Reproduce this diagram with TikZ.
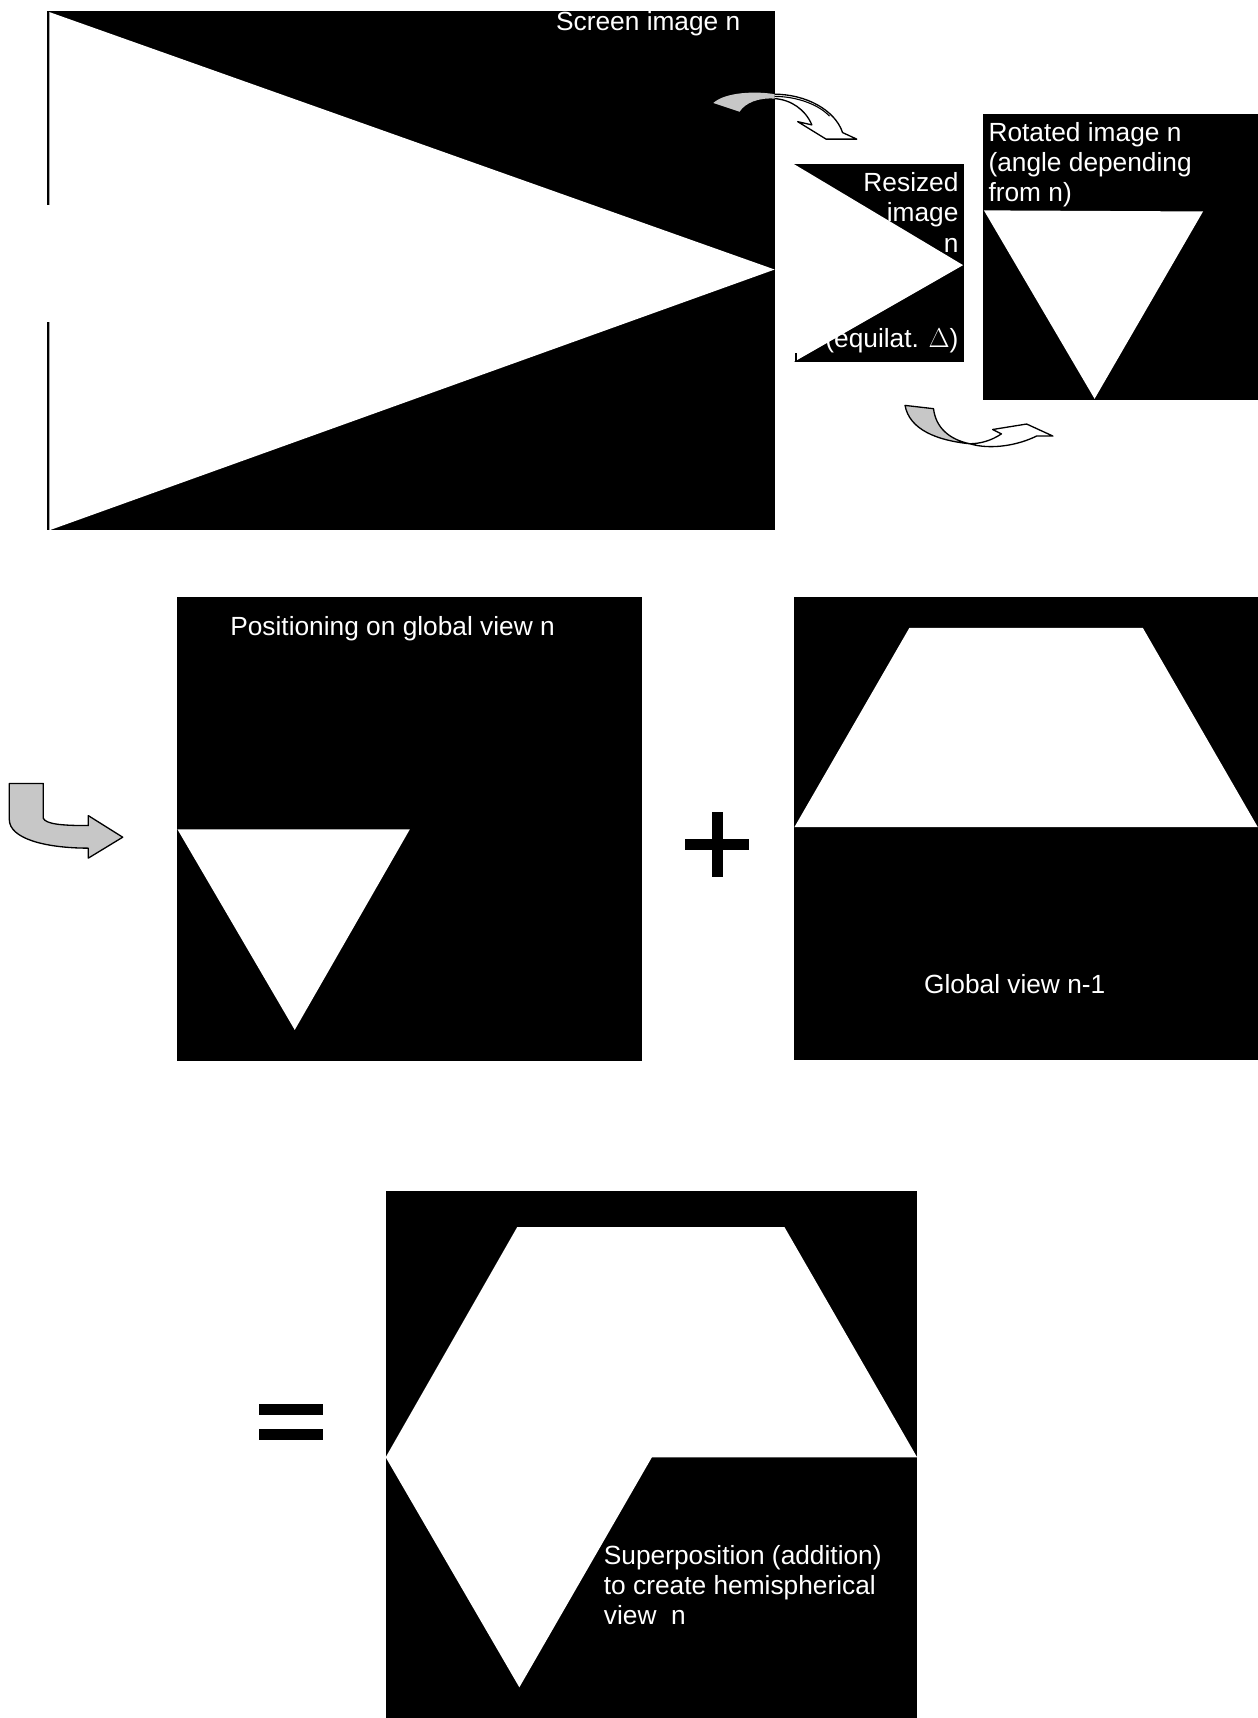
\documentclass[tikz,border=0pt]{standalone}
\usepackage{fontspec}
\setmainfont{Liberation Sans}
\definecolor{arrowgray}{gray}{0.78}
\begin{document}
\begin{tikzpicture}[x=1pt,y=-1pt,
  imgbox/.style={fill=black},
  whiteshape/.style={fill=white},
  lbl/.style={text=white,font=\fontsize{24}{27.5}\selectfont,inner sep=0pt},
  grayface/.style={fill=arrowgray,draw=black,line width=1.2pt,line join=round},
  whiteface/.style={fill=white,draw=black,line width=1.2pt,line join=round}]
\useasboundingbox (0,0) rectangle (1148,1568);

% ---------- Screen image ----------
\fill[imgbox] (43,10) rectangle (707,484);
\node[lbl,anchor=base west] (screen) at (507.4,28) {Screen image n};
\fill[whiteshape] (45,11) -- (707,246) -- (45,484) -- cycle;
\fill[white] (42.5,187) rectangle (45.5,294);

% ---------- curved arrow 1 ----------
\fill[arrowgray] (651,94) .. controls (662,84) and (690,83) .. (707,86)
  -- (707,90) .. controls (692,89) and (680,94) .. (675,102) -- cycle;
\draw[whiteface] (707,86) .. controls (735,86) and (762,100) .. (769,121)
  -- (782,127) -- (754,127) -- (728,111) -- (741,114)
  .. controls (735,100) and (722,91) .. (707,90);
\draw[line width=1pt] (707,88) .. controls (728,88) and (748,96) .. (757,106);

% ---------- Resized image ----------
\fill[imgbox] (725,150) rectangle (880,330);
\node[lbl,align=right,anchor=north east] (resized) at (875,157.5)
  {Resized\\image\\n\\[60pt](equilat. $\Delta$)};
\fill[whiteshape] (724,149.4) -- (879,242) -- (724,330.6) -- cycle;
\fill[black] (725.5,322) rectangle (727,330);

% ---------- Rotated image ----------
\fill[imgbox] (897,104) rectangle (1148,365);
\node[lbl,align=left,anchor=north west] (rotated) at (902,111.5)
  {Rotated image n\\(angle depending\\from n)};
\fill[whiteshape] (898,192) -- (1098,193) -- (999,364) -- cycle;

% ---------- curved arrow 2 ----------
\draw[whiteface] (885,405) .. controls (905,411) and (930,406) .. (946,398)
  -- (961,398) -- (937,387) -- (906,392) -- (914,396)
  .. controls (905,402) and (895,405) .. (885,405);
\draw[grayface] (826,370) -- (852,373) .. controls (854,390) and (866,401) .. (885,405)
  .. controls (855,402) and (830,392) .. (826,370) -- cycle;

% ---------- U-turn arrow ----------
\draw[grayface] (8.5,715) -- (39.5,715) -- (39.5,746.8)
  .. controls (42,752) and (55,753.5) .. (80.6,753.5)
  -- (80.6,744.4) -- (112,764.1) -- (80.6,783.2) -- (80.6,774.1)
  .. controls (40,774) and (8.5,765) .. (8.5,748) -- cycle;

% ---------- Positioning ----------
\fill[imgbox] (162,545) rectangle (586,968);
\node[lbl,anchor=base west] (pos) at (210,580) {Positioning on global view n};
\fill[whiteshape] (162,757) -- (374,757) -- (269,940) -- cycle;

% plus sign
\fill (650,741) rectangle (660,800);
\fill (625,766) rectangle (684,776);

% ---------- Global view n-1 ----------
\fill[imgbox] (725,545) rectangle (1148,967);
\fill[whiteshape] (725,755) -- (830,573) -- (1043,573) -- (1148,755) -- cycle;
\node[lbl,anchor=base west] (global) at (843.2,906.5) {Global view n-1};

% equals sign
\fill (236,1281) rectangle (295,1291);
\fill (236,1304) rectangle (295,1314);

% ---------- Result ----------
\fill[imgbox] (352,1087) rectangle (837,1568);
\fill[whiteshape] (352,1330) -- (472,1120) -- (716,1120) -- (837,1330)
  -- (595,1330) -- (474,1540) -- cycle;
\node[lbl,align=left,anchor=north west] (superpos) at (551,1410.5)
  {Superposition (addition)\\to create hemispherical\\view~~n};
\end{tikzpicture}
\end{document}
